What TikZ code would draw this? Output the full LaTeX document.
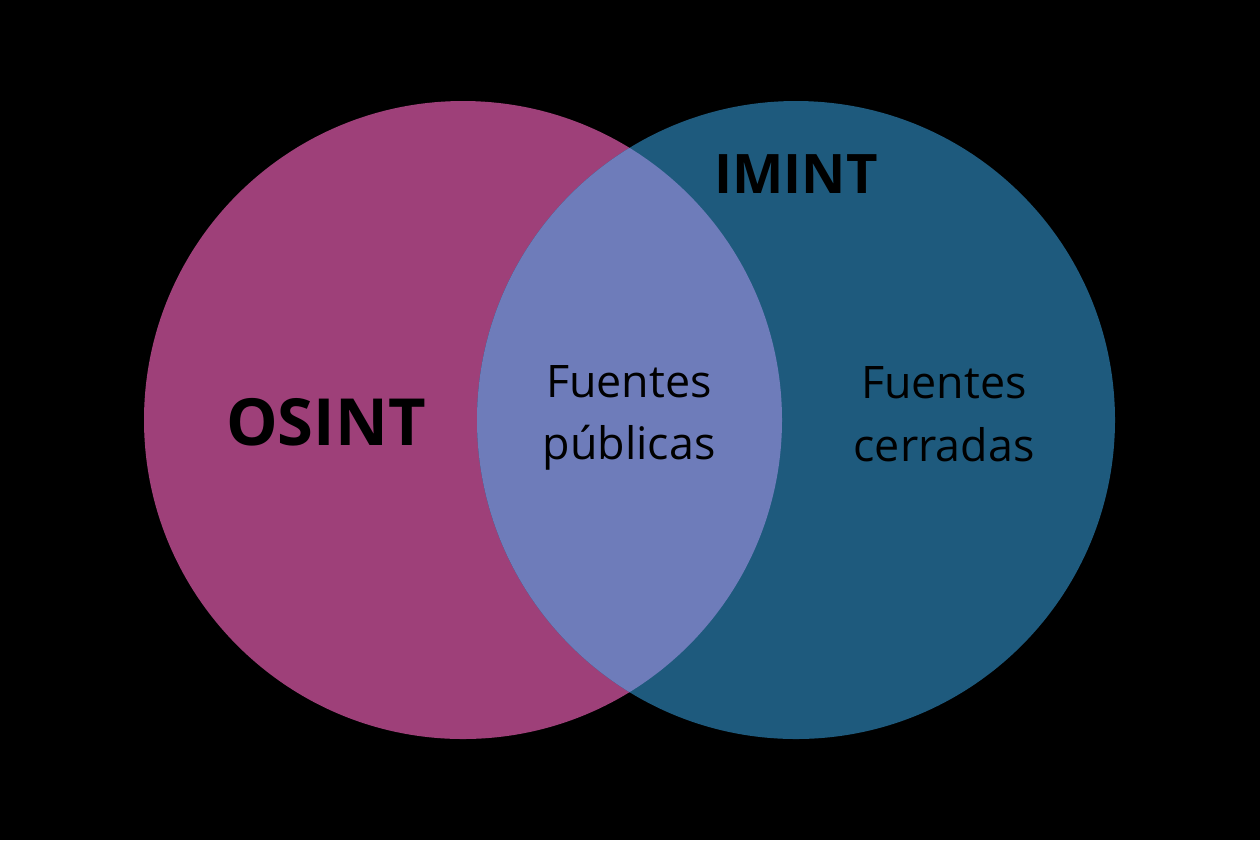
\documentclass[tikz,border=0pt]{standalone}
\usepackage{fontspec}
\setmainfont{Open Sans}
\usepackage{tikz}
\usetikzlibrary{positioning}

\definecolor{osintcol}{HTML}{9E4079}
\definecolor{imintcol}{HTML}{1E5A7D}
\definecolor{bothcol}{HTML}{6E7CBA}

\begin{document}
\begin{tikzpicture}[
    x=0.02cm,y=-0.02cm,
    title/.style={font=\fontsize{37}{40}\selectfont\bfseries,text=black},
    lbl/.style={font=\fontsize{25.5}{35.7}\selectfont,align=center,text=black}
  ]
    \fill[black] (0,0) rectangle (1260,840);
    \useasboundingbox (0,0) rectangle (1260,840);

    \coordinate (osintc) at (463,420);
    \coordinate (imintc) at (796,420);
    \fill[osintcol] (osintc) circle[radius=319];
    \fill[imintcol] (imintc) circle[radius=319];
    \begin{scope}
      \clip (osintc) circle[radius=319];
      \fill[bothcol] (imintc) circle[radius=319];
    \end{scope}

    \node[title] (osint) at (326,422) {OSINT};
    \node[title,font=\fontsize{31}{35}\selectfont\bfseries] (imint) at (796,174) {IMINT};
    \node[lbl] (publicas) at (629,418) {Fuentes\\públicas};
    \node[lbl] (cerradas) at (944,414) {Fuentes\\cerradas};
  \end{tikzpicture}
\end{document}
